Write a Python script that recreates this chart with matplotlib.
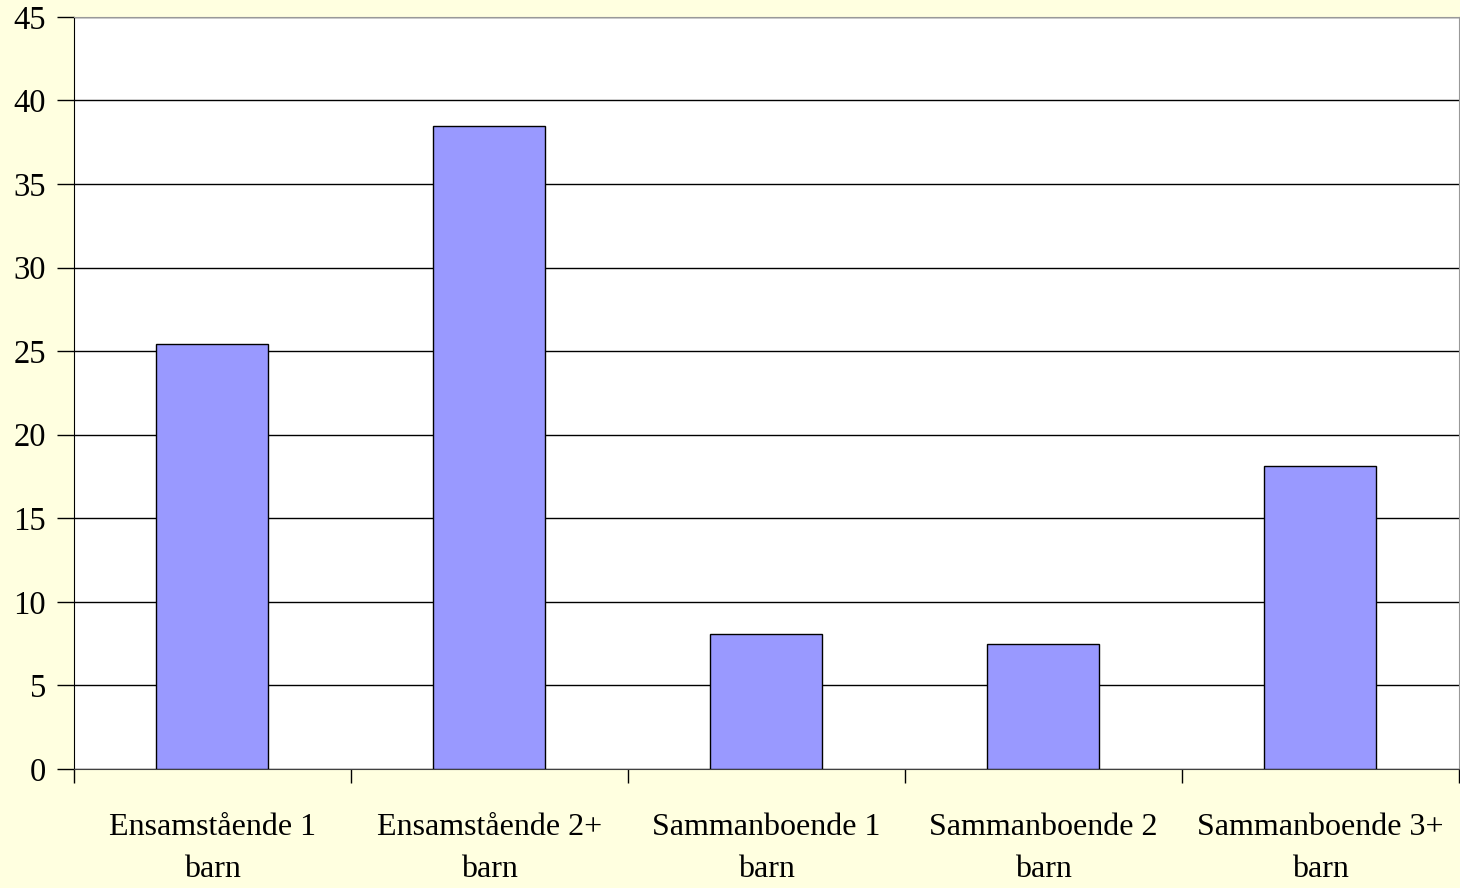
import numpy as np
import matplotlib.pyplot as plt

CATEGORIES = ['Ensamstående 1\nbarn', 'Ensamstående 2+\nbarn', 'Sammanboende 1\nbarn',
              'Sammanboende 2\nbarn', 'Sammanboende 3+\nbarn']
VALUES = [25.4, 38.5, 8.1, 7.5, 18.1]
Y_TICKS = np.arange(0, 50, 5)

plt.rcParams['font.family'] = ['Liberation Serif', 'DejaVu Serif']

fig = plt.figure(figsize=(14.6, 8.88), dpi=100, facecolor='#FFFFE0')
ax = fig.add_axes([0.0505, 0.134, 0.9485, 0.847])
ax.set_facecolor('white')

x = np.arange(len(CATEGORIES))
ax.bar(x, VALUES, width=0.405, color='#9999FF', edgecolor='black', linewidth=1, zorder=3)

ax.set_ylim(0, 45)
ax.set_xlim(-0.5, len(CATEGORIES) - 0.5)
ax.set_yticks(Y_TICKS)
ax.set_yticklabels([str(v) for v in Y_TICKS], fontsize=23.5)
ax.yaxis.grid(True, color='black', linewidth=1)
ax.set_axisbelow(True)

ax.set_xticks(x)
ax.set_xticklabels(CATEGORIES, fontsize=23, linespacing=1.58)
ax.tick_params(axis='x', which='major', length=0, pad=32)
ax.set_xticks(np.arange(len(CATEGORIES) + 1) - 0.5, minor=True)
ax.tick_params(axis='x', which='minor', length=10, direction='out', width=1)
ax.tick_params(axis='y', length=12, direction='out', width=1, pad=8)

ax.spines['left'].set_color('black')
ax.spines['bottom'].set_color('#404040')
ax.spines['top'].set_color('#999999')
ax.spines['right'].set_color('#999999')

fig.savefig('out.png', dpi=100, facecolor=fig.get_facecolor())
